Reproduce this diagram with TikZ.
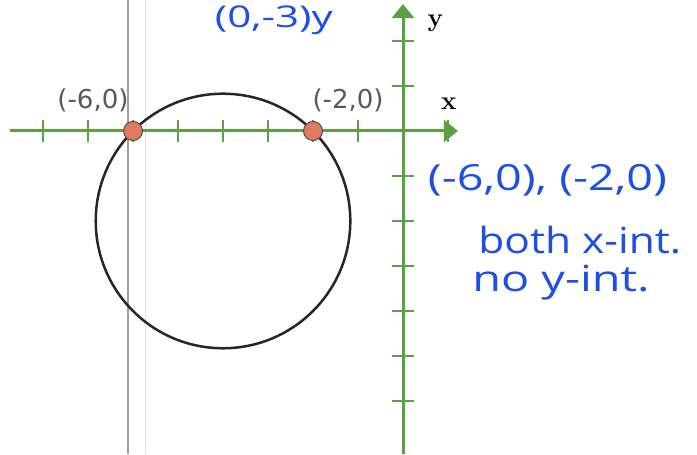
\documentclass[tikz,border=0pt]{standalone}
\usepackage{fontspec}
\setsansfont{DejaVu Sans}
\newfontfamily\handfont{Open Sans}
\usetikzlibrary{arrows.meta}

\definecolor{axisgreen}{HTML}{5BA042}
\definecolor{inkblue}{HTML}{1E4FE4}
\definecolor{dotred}{HTML}{E07A62}

\tikzset{
  axisline/.style={axisgreen, line width=3pt, -{Triangle[length=14pt,width=22pt]}},
  tickline/.style={axisgreen, line width=2pt},
  ptlabel/.style={text=black!65, font=\sffamily\fontsize{26}{28}\selectfont, inner sep=0pt},
  axislabel/.style={font=\bfseries\fontsize{26}{28}\selectfont, inner sep=0pt},
  intdot/.style={circle, draw=black!70, fill=dotred, line width=1pt, minimum size=19pt, inner sep=0pt},
  handnote/.style={text=inkblue, font=\handfont\fontsize{36}{38}\selectfont, inner sep=0pt}
}

\begin{document}
\begin{tikzpicture}[x=45pt, y=45pt]
    \useasboundingbox (-8.956,-7.178) rectangle (6.533,2.911);

    % Grid guide lines
    \draw[gray!25, line width=1pt] (-5.73,-7.178) -- (-5.73,2.911);
    \draw[gray!75, line width=1.5pt] (-6.11,-7.178) -- (-6.11,2.911);

    % Draw axes
    \draw[axisline] (-8.73,0) -- (1.22,0);
    \draw[axisline] (0,-7.178) -- (0,2.82);
    \foreach \i in {-8,...,-1,1}
        \draw[tickline] (\i,-0.25) -- (\i,0.25);
    \foreach \j in {-6,...,-1,1,2}
        \draw[tickline] (-0.25,\j) -- (0.25,\j);
    \node[axislabel] (xlab) at (1.02,0.6) {x};
    \node[axislabel] (ylab) at (0.72,2.4) {y};

    % Draw circle
    \draw[black!85, line width=2.5pt] (-4,-2) circle ({sqrt(8)});

    % Mark intercepts
    \node[intdot] (ptA) at (-6,0) {};
    \node[intdot] (ptB) at (-2,0) {};
    \node[ptlabel] (lblA) at (-6.89,0.69) {(-6,0)};
    \node[ptlabel] (lblB) at (-1.22,0.69) {(-2,0)};

    % Handwritten notes
    \node[handnote, font=\handfont\fontsize{30}{32}\selectfont] (noteTop) at (-2.87,2.47) {\scalebox{1.4}[1]{(0,-3)y}};
    \node[handnote] (noteInt) at (3.21,-1.1) {\scalebox{1.3}[1]{(-6,0), (-2,0)}};
    \node[handnote] (noteBoth) at (3.93,-2.42) {\scalebox{1.18}[1]{both x-int.}};
    \node[handnote] (noteNo) at (3.51,-3.38) {\scalebox{1.3}[1]{no y-int.}};

\end{tikzpicture}
\end{document}
